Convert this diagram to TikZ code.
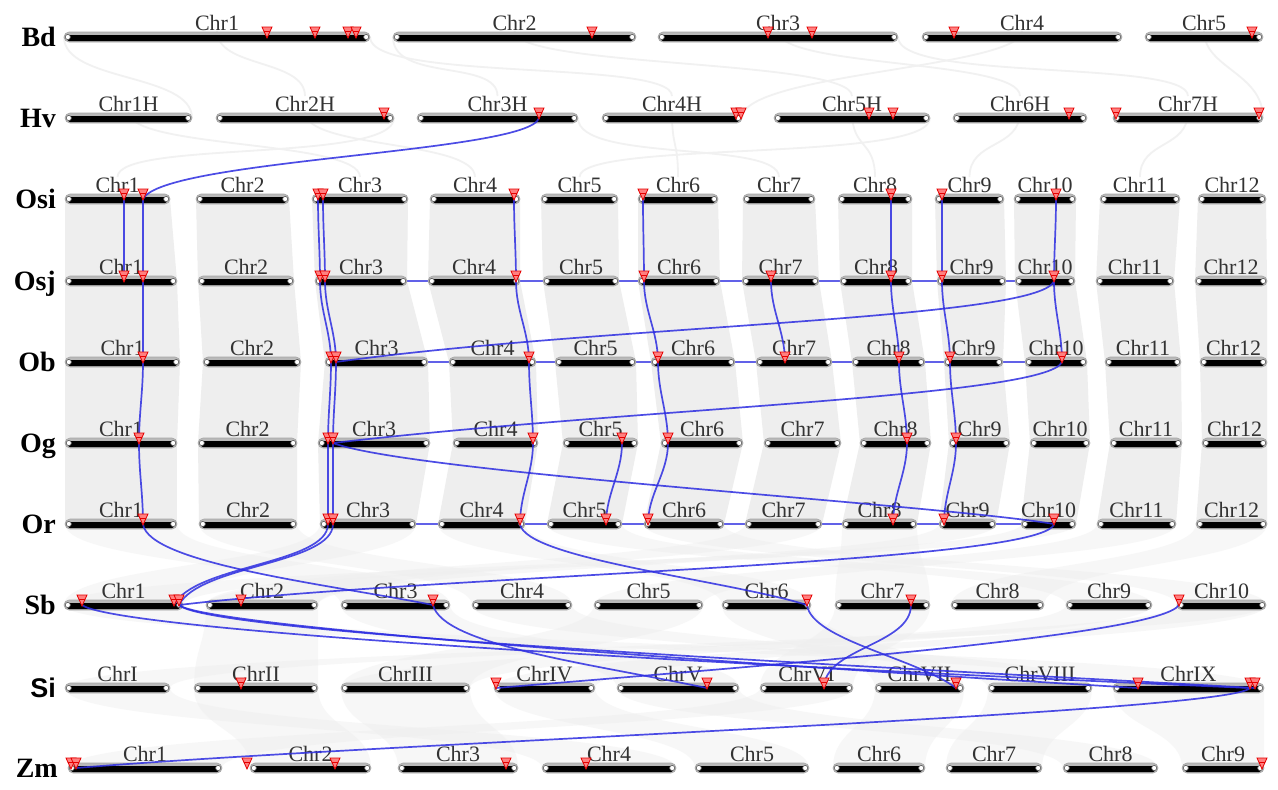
\documentclass[tikz,border=0pt]{standalone}
\usepackage{fontspec}
\setmainfont{Liberation Serif}
\newfontfamily\sansfam{Liberation Sans}
\pgfdeclarelayer{back}\pgfdeclarelayer{mid}\pgfdeclarelayer{front}
\pgfsetlayers{back,mid,main,front}
\definecolor{linkblue}{RGB}{45,45,225}
\definecolor{ribgray}{RGB}{238,238,238}
\tikzset{
 chrlab/.style={font=\fontsize{22}{22}\selectfont, text=black!80, anchor=base, inner sep=0pt},
 rowlab/.style={font=\fontsize{28}{28}\selectfont\bfseries, anchor=base east, inner sep=0pt},
 link/.style={draw=linkblue, line width=1.7pt, draw opacity=0.85},
 hlink/.style={draw=linkblue, line width=1.6pt, draw opacity=0.75},
 redtri/.style={draw=red!90!black, fill=red!50, line width=0.8pt},
 ribbon/.style={fill=ribgray},
 ribbontwo/.style={fill=gray!13, fill opacity=0.45},
 faint/.style={draw=gray!11, line width=1.8pt},
}
\newcommand{\chr}[5]{%
 \coordinate (#1-L) at (#2,#4);
 \coordinate (#1-R) at (#3,#4);
 \draw[draw=gray!70, fill=gray!55, rounded corners=5pt, line width=0.6pt] (#2,{#4-5}) rectangle (#3,{#4+5});
 \fill[black, rounded corners=2.5pt] ({#2+3},{#4-2}) rectangle ({#3-3},{#4+4.2});
 \filldraw[fill=white, draw=gray!70!black, line width=0.6pt] ({#2+3.8},#4) circle (2.6) ({#3-3.8},#4) circle (2.6);
 \node[chrlab] (#1) at ({(#2+#3)/2},{#4-6.5}) {#5};
}
\newcommand{\mk}[3]{%
 \coordinate (#1) at (#2,#3);
 \begin{pgfonlayer}{front}
 \filldraw[redtri] ({#2-5},{#3-10}) -- ({#2+5},{#3-10}) -- (#2,{#3+1}) -- cycle;
 \draw[red!90!black, line width=0.7pt] ({#2-3.3},{#3-6}) -- ({#2+3.3},{#3-6});
 \end{pgfonlayer}
}
\newcommand{\lk}[3]{\draw[link] (#1) .. controls +(0,#3) and +(0,-#3) .. (#2);}
\newcommand{\lc}[4]{\draw[link] (#1) .. controls +#3 and +#4 .. (#2);}
\newcommand{\crib}[2]{\fill[ribbontwo] (#1-L) .. controls +(0,40) and +(0,-40) .. (#2-L) -- (#2-R) .. controls +(0,-40) and +(0,40) .. (#1-R) -- cycle;}
\newcommand{\fc}[2]{\draw[faint] (#1) .. controls +(0,45) and +(0,-45) .. (#2);}

\begin{document}
\begin{tikzpicture}[x=1pt,y=-1pt]
\useasboundingbox (0,0) rectangle (1278,790);
\begin{pgfonlayer}{back}
\fill[white] (0,0) rectangle (1278,790);
\end{pgfonlayer}

% row labels
\node[rowlab] (rBd) at (56,46) {Bd};
\node[rowlab] (rHv) at (56,127) {Hv};
\node[rowlab] (rOsi) at (56,208) {Osi};
\node[rowlab] (rOsj) at (56,290) {Osj};
\node[rowlab] (rOb) at (56,371) {Ob};
\node[rowlab] (rOg) at (56,452) {Og};
\node[rowlab] (rOr) at (56,533) {Or};
\node[rowlab] (rSb) at (56,614) {Sb};
\node[rowlab, font=\fontsize{27}{27}\selectfont\bfseries\sansfam] (rSi) at (56,697) {Si};
\node[rowlab] (rZm) at (58,777) {Zm};

% Bd
\chr{bd1}{64}{370}{37}{Chr1}\chr{bd2}{393}{636}{37}{Chr2}\chr{bd3}{658}{898}{37}{Chr3}
\chr{bd4}{922}{1122}{37}{Chr4}\chr{bd5}{1145}{1263}{37}{Chr5}
% Hv
\chr{hv1}{65}{192}{118}{Chr1H}\chr{hv2}{216}{394}{118}{Chr2H}\chr{hv3}{417}{578}{118}{Chr3H}
\chr{hv4}{602}{742}{118}{Chr4H}\chr{hv5}{774}{930}{118}{Chr5H}\chr{hv6}{953}{1087}{118}{Chr6H}
\chr{hv7}{1113}{1263}{118}{Chr7H}
% Osi
\chr{osi1}{65}{170}{199}{Chr1}\chr{osi2}{196}{289}{199}{Chr2}\chr{osi3}{312}{408}{199}{Chr3}
\chr{osi4}{430}{520}{199}{Chr4}\chr{osi5}{541}{618}{199}{Chr5}\chr{osi6}{638}{718}{199}{Chr6}
\chr{osi7}{743}{815}{199}{Chr7}\chr{osi8}{838}{912}{199}{Chr8}\chr{osi9}{935}{1004}{199}{Chr9}
\chr{osi10}{1014}{1076}{199}{Chr10}\chr{osi11}{1100}{1180}{199}{Chr11}\chr{osi12}{1198}{1266}{199}{Chr12}
% Osj
\chr{osj1}{65}{177}{281}{Chr1}\chr{osj2}{198}{294}{281}{Chr2}\chr{osj3}{315}{407}{281}{Chr3}
\chr{osj4}{428}{520}{281}{Chr4}\chr{osj5}{543}{619}{281}{Chr5}\chr{osj6}{638}{720}{281}{Chr6}
\chr{osj7}{742}{819}{281}{Chr7}\chr{osj8}{840}{912}{281}{Chr8}\chr{osj9}{937}{1006}{281}{Chr9}
\chr{osj10}{1015}{1075}{281}{Chr10}\chr{osj11}{1096}{1174}{281}{Chr11}\chr{osj12}{1195}{1267}{281}{Chr12}
% Ob
\chr{ob1}{65}{180}{362}{Chr1}\chr{ob2}{203}{301}{362}{Chr2}\chr{ob3}{325}{428}{362}{Chr3}
\chr{ob4}{449}{536}{362}{Chr4}\chr{ob5}{555}{636}{362}{Chr5}\chr{ob6}{651}{735}{362}{Chr6}
\chr{ob7}{756}{832}{362}{Chr7}\chr{ob8}{852}{925}{362}{Chr8}\chr{ob9}{944}{1003}{362}{Chr9}
\chr{ob10}{1025}{1087}{362}{Chr10}\chr{ob11}{1105}{1181}{362}{Chr11}\chr{ob12}{1200}{1267}{362}{Chr12}
% Og
\chr{og1}{65}{177}{443}{Chr1}\chr{og2}{198}{297}{443}{Chr2}\chr{og3}{318}{430}{443}{Chr3}
\chr{og4}{453}{538}{443}{Chr4}\chr{og5}{563}{638}{443}{Chr5}\chr{og6}{661}{743}{443}{Chr6}
\chr{og7}{764}{841}{443}{Chr7}\chr{og8}{860}{931}{443}{Chr8}\chr{og9}{949}{1010}{443}{Chr9}
\chr{og10}{1030}{1090}{443}{Chr10}\chr{og11}{1110}{1182}{443}{Chr11}\chr{og12}{1202}{1267}{443}{Chr12}
% Or
\chr{or1}{65}{177}{524}{Chr1}\chr{or2}{199}{297}{524}{Chr2}\chr{or3}{320}{416}{524}{Chr3}
\chr{or4}{438}{525}{524}{Chr4}\chr{or5}{547}{622}{524}{Chr5}\chr{or6}{644}{724}{524}{Chr6}
\chr{or7}{745}{822}{524}{Chr7}\chr{or8}{842}{917}{524}{Chr8}\chr{or9}{939}{996}{524}{Chr9}
\chr{or10}{1021}{1076}{524}{Chr10}\chr{or11}{1097}{1176}{524}{Chr11}\chr{or12}{1196}{1267}{524}{Chr12}
% Sb
\chr{sb1}{64}{183}{605}{Chr1}\chr{sb2}{206}{318}{605}{Chr2}\chr{sb3}{341}{450}{605}{Chr3}
\chr{sb4}{472}{572}{605}{Chr4}\chr{sb5}{594}{703}{605}{Chr5}\chr{sb6}{722}{811}{605}{Chr6}
\chr{sb7}{835}{930}{605}{Chr7}\chr{sb8}{951}{1044}{605}{Chr8}\chr{sb9}{1066}{1152}{605}{Chr9}
\chr{sb10}{1177}{1266}{605}{Chr10}
% Si
\chr{si1}{65}{170}{688}{ChrI}\chr{si2}{194}{318}{688}{ChrII}\chr{si3}{341}{470}{688}{ChrIII}
\chr{si4}{494}{595}{688}{ChrIV}\chr{si5}{617}{739}{688}{ChrV}\chr{si6}{760}{853}{688}{ChrVI}
\chr{si7}{875}{964}{688}{ChrVII}\chr{si8}{988}{1092}{688}{ChrVIII}\chr{si9}{1113}{1264}{688}{ChrIX}
% Zm
\chr{zm1}{68}{222}{768}{Chr1}\chr{zm2}{250}{371}{768}{Chr2}\chr{zm3}{398}{518}{768}{Chr3}
\chr{zm4}{542}{676}{768}{Chr4}\chr{zm5}{695}{809}{768}{Chr5}\chr{zm6}{833}{925}{768}{Chr6}
\chr{zm7}{946}{1042}{768}{Chr7}\chr{zm8}{1063}{1158}{768}{Chr8}\chr{zm9}{1182}{1264}{768}{Chr9}

% background synteny
\begin{pgfonlayer}{back}
\foreach \i in {1,...,12}{
  \foreach \p/\q in {osi/osj,osj/ob,ob/og,og/or}{
    \fill[ribbon] (\p\i-L) -- (\p\i-R) -- (\q\i-R) -- (\q\i-L) -- cycle;
  }
}
\crib{or1}{sb3}\crib{or2}{sb4}\crib{or3}{sb1}\crib{or4}{sb6}\crib{or5}{sb9}\crib{or6}{sb10}
\crib{or7}{sb2}\crib{or8}{sb7}\crib{or9}{sb2}\crib{or10}{sb1}\crib{or11}{sb5}\crib{or12}{sb8}
\crib{sb1}{si9}\crib{sb2}{si2}\crib{sb3}{si5}\crib{sb4}{si8}\crib{sb5}{si3}\crib{sb6}{si7}
\crib{sb7}{si6}\crib{sb9}{si3}\crib{sb10}{si4}\crib{sb10}{si1}
\crib{si1}{zm4}\crib{si2}{zm2}\crib{si3}{zm3}\crib{si4}{zm5}\crib{si5}{zm8}\crib{si6}{zm1}
\crib{si7}{zm6}\crib{si8}{zm7}\crib{si9}{zm9}
\fc{bd1}{hv2}\fc{bd1-L}{hv1-R}\fc{bd2}{hv5}\fc{bd2-L}{hv3}\fc{bd3}{hv6}\fc{bd3-R}{hv7}
\fc{bd4}{hv4-R}\fc{bd5}{hv7-R}\fc{bd1-R}{hv4}
\fc{hv1}{osi3}\fc{hv2}{osi4}\fc{hv3-R}{osi7}\fc{hv4}{osi6}\fc{hv5}{osi8}\fc{hv6}{osi9}
\fc{hv7}{osi11}\fc{hv2-R}{osi1}\fc{hv5-R}{osi5}
\end{pgfonlayer}

% within-row blue lines
\begin{pgfonlayer}{mid}
\draw[hlink] (osj3-R) -- (osj10-L);
\draw[hlink] (ob3-R) -- (ob10-L);
\draw[hlink] (or3-R) -- (or10-L);
\end{pgfonlayer}

% markers
\mk{bd267}{267}{37}\mk{bd315}{315}{37}\mk{bd348}{348}{37}\mk{bd356}{356}{37}\mk{bd592}{592}{37}
\mk{bd768}{768}{37}\mk{bd812}{812}{37}\mk{bd954}{954}{37}\mk{bd1252}{1252}{37}
\mk{hv384}{384}{118}\mk{hv539}{539}{118}\mk{hv736}{736}{118}\mk{hv741}{741}{118}\mk{hv869}{869}{118}
\mk{hv893}{893}{118}\mk{hv1069}{1069}{118}\mk{hv1116}{1116}{118}\mk{hv1259}{1259}{118}
\mk{osi124}{124}{199}\mk{osi143}{143}{199}\mk{osi318}{318}{199}\mk{osi323}{323}{199}\mk{osi514}{514}{199}
\mk{osi643}{643}{199}\mk{osi891}{891}{199}\mk{osi942}{942}{199}\mk{osi1056}{1056}{199}
\mk{osj124}{124}{281}\mk{osj143}{143}{281}\mk{osj320}{320}{281}\mk{osj325}{325}{281}\mk{osj516}{516}{281}
\mk{osj644}{644}{281}\mk{osj771}{771}{281}\mk{osj891}{891}{281}\mk{osj942}{942}{281}\mk{osj1054}{1054}{281}
\mk{ob143}{143}{362}\mk{ob331}{331}{362}\mk{ob336}{336}{362}\mk{ob529}{529}{362}\mk{ob658}{658}{362}
\mk{ob785}{785}{362}\mk{ob899}{899}{362}\mk{ob950}{950}{362}\mk{ob1062}{1062}{362}
\mk{og139}{139}{443}\mk{og328}{328}{443}\mk{og333}{333}{443}\mk{og533}{533}{443}\mk{og622}{622}{443}
\mk{og668}{668}{443}\mk{og907}{907}{443}\mk{og956}{956}{443}
\mk{or143}{143}{524}\mk{or328}{328}{524}\mk{or333}{333}{524}\mk{or520}{520}{524}\mk{or606}{606}{524}
\mk{or648}{648}{524}\mk{or893}{893}{524}\mk{or944}{944}{524}\mk{or1054}{1054}{524}
\mk{sb82}{82}{605}\mk{sb174}{174}{605}\mk{sb179}{179}{605}\mk{sb241}{241}{605}\mk{sb433}{433}{605}
\mk{sb807}{807}{605}\mk{sb911}{911}{605}\mk{sb1179}{1179}{605}
\mk{si241}{241}{688}\mk{si496}{496}{688}\mk{si707}{707}{688}\mk{si824}{824}{688}\mk{si956}{956}{688}
\mk{si1138}{1138}{688}\mk{si1250}{1250}{688}\mk{si1255}{1255}{688}
\mk{zm71}{71}{768}\mk{zm76}{76}{768}\mk{zm247}{247}{768}\mk{zm335}{335}{768}\mk{zm506}{506}{768}
\mk{zm586}{586}{768}\mk{zm1262}{1262}{768}

% blue connectors
\lc{hv539}{osi143}{(-10,35)}{(20,-40)}
\lk{osi124}{osj124}{30}\lk{osi143}{osj143}{30}\lk{osi318}{osj320}{30}\lk{osi323}{osj325}{30}
\lk{osi514}{osj516}{30}\lk{osi643}{osj644}{30}\lk{osi891}{osj891}{30}\lk{osi942}{osj942}{30}
\lk{osi1056}{osj1054}{30}
\lk{osj143}{ob143}{30}\lk{osj320}{ob331}{30}\lk{osj325}{ob336}{30}\lk{osj516}{ob529}{30}
\lk{osj644}{ob658}{30}\lk{osj771}{ob785}{30}\lk{osj891}{ob899}{30}\lk{osj942}{ob950}{30}
\lk{osj1054}{ob1062}{30}
\lk{ob143}{og139}{30}\lk{ob331}{og328}{30}\lk{ob336}{og333}{30}\lk{ob529}{og533}{30}
\lk{ob658}{og668}{30}\lk{ob899}{og907}{30}\lk{ob950}{og956}{30}
\lk{og139}{or143}{30}\lk{og328}{or328}{30}\lk{og333}{or333}{30}\lk{og533}{or520}{30}
\lk{og622}{or606}{30}\lk{og668}{or648}{30}\lk{og907}{or893}{30}\lk{og956}{or944}{30}
\lc{osj1054}{ob336}{(-14,39)}{(267,-37)}
\lc{ob1062}{og333}{(-15,35)}{(300,-35)}
\lc{og333}{or1054}{(80,30)}{(-120,-20)}
\lc{or1054}{sb179}{(-10,40)}{(250,-30)}
\lc{or328}{sb174}{(0,40)}{(20,-40)}
\lc{or333}{sb179}{(0,40)}{(20,-40)}
\lc{or143}{sb433}{(5,40)}{(-100,-20)}
\lc{or520}{sb807}{(5,35)}{(-80,-25)}
\lc{sb82}{si1250}{(40,30)}{(-350,-15)}
\lc{sb179}{si1255}{(30,30)}{(-350,-20)}
\lc{sb179}{si1138}{(30,25)}{(-250,-15)}
\lc{sb433}{si707}{(10,40)}{(-120,-25)}
\lc{sb807}{si956}{(5,35)}{(-40,-30)}
\lk{sb911}{si824}{40}
\lc{sb1179}{si496}{(-20,30)}{(300,-25)}
\lc{si1250}{zm76}{(-20,25)}{(300,-25)}
\end{tikzpicture}
\end{document}
